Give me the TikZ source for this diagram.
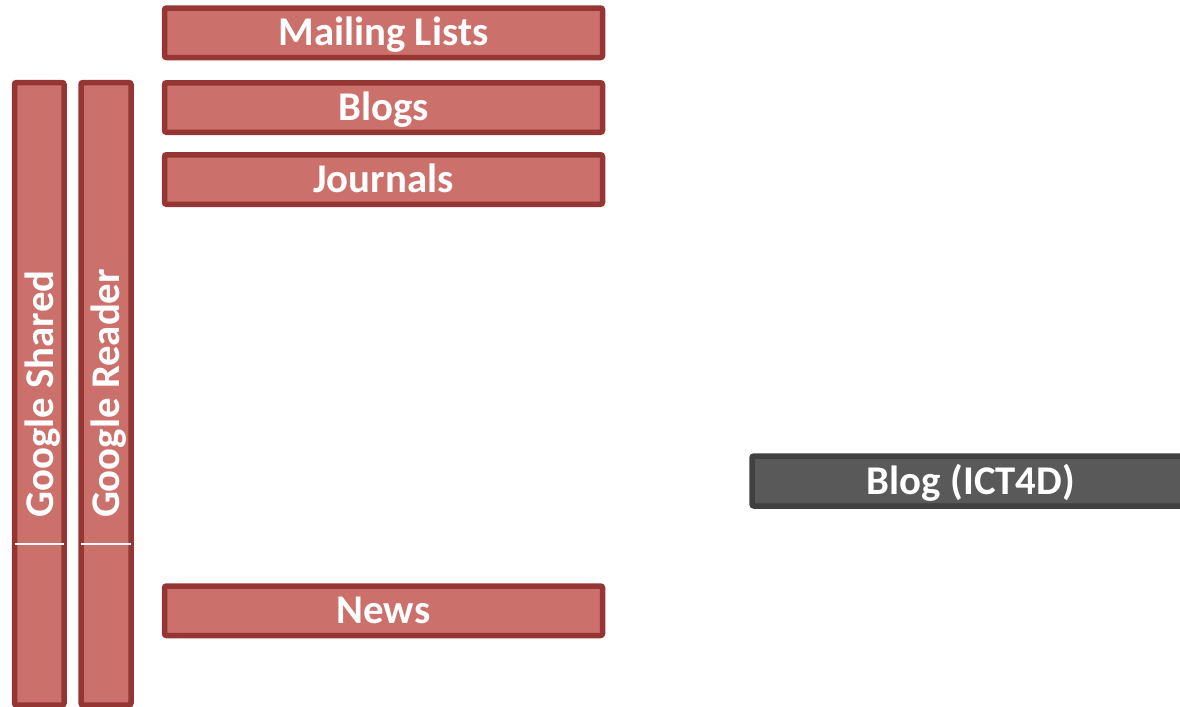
\documentclass[tikz,border=0pt]{standalone}
\usepackage{fontspec}
\setmainfont{Carlito}
\definecolor{redfill}{RGB}{204,112,108}
\definecolor{redline}{RGB}{150,54,52}
\definecolor{grayfill}{RGB}{89,89,89}
\definecolor{grayline}{RGB}{64,64,64}
\tikzset{
  boxfont/.style={font=\fontsize{20.4}{24}\selectfont\bfseries, text height=13.1pt, text depth=0pt},
  redbox/.style={draw=redline, fill=redfill, line width=2.75pt, rounded corners=1pt,
    inner sep=0pt, text=white, boxfont},
  graybox/.style={redbox, draw=grayline, fill=grayfill},
  vtext/.style={rotate=90, text=white, inner sep=0pt, boxfont},
  divider/.style={draw=white, line width=0.6pt}
}
\begin{document}
\begin{tikzpicture}[x=0.5pt, y=-0.5pt]
\useasboundingbox (0,0) rectangle (1180,707);
\clip (0,0) rectangle (1180,707);
\node[redbox, minimum width=219pt, minimum height=24.75pt] (ml) at (383.5,32.75) {Mailing Lists};
\node[redbox, minimum width=219pt, minimum height=24.75pt] (bl) at (383.5,107.5) {Blogs};
\node[redbox, minimum width=219pt, minimum height=24.75pt] (jo) at (383.5,179.5) {Journals};
\node[redbox, minimum width=219pt, minimum height=24.75pt] (ne) at (383.5,610.75) {News};
\node[graybox, minimum width=219pt, minimum height=25pt] (ict) at (971,481) {Blog (ICT4D)};
\node[redbox, minimum width=24.75pt, minimum height=311.25pt] (gs) at (39.25,393.75) {};
\node[redbox, minimum width=25pt, minimum height=311.25pt] (gr) at (106,393.75) {};
\node[vtext] (gst) at (40,394) {Google Shared};
\node[vtext] (grt) at (106.7,393.5) {Google Reader};
\draw[divider] ([xshift=1.4pt]gs.west |- 0,544) -- ([xshift=-1.4pt]gs.east |- 0,544);
\draw[divider] ([xshift=1.4pt]gr.west |- 0,544) -- ([xshift=-1.4pt]gr.east |- 0,544);
\end{tikzpicture}
\end{document}
